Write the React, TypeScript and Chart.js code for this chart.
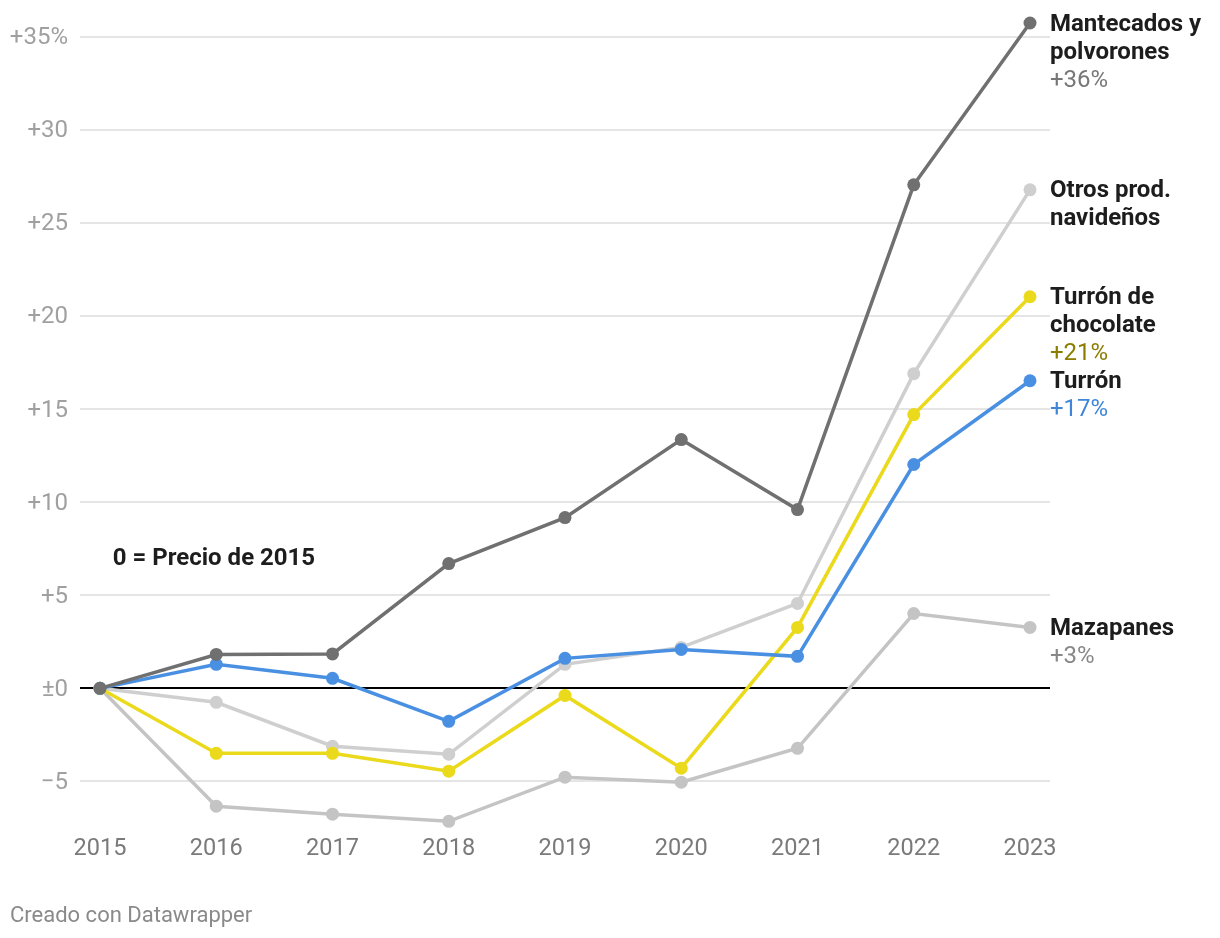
import React, { useEffect, useRef } from "react";
import { Chart, registerables } from "chart.js";

Chart.register(...registerables);

const years = [2015, 2016, 2017, 2018, 2019, 2020, 2021, 2022, 2023];
const mantecados = [0, 1.82, 1.85, 6.7, 9.17, 13.36, 9.6, 27.04, 35.73];
const turron = [0, 1.29, 0.54, -1.77, 1.61, 2.09, 1.72, 12.02, 16.52];
const turronChocolate = [0, -3.49, -3.49, -4.45, -0.38, -4.29, 3.27, 14.7, 21.03];
const otros = [0, -0.75, -3.11, -3.54, 1.29, 2.2, 4.56, 16.9, 26.77];
const mazapanes = [0, -6.33, -6.76, -7.14, -4.77, -5.04, -3.22, 4.02, 3.27];

const yTicks = [-5, 0, 5, 10, 15, 20, 25, 30, 35];

const seriesNames = [
  ["Mantecados y", "polvorones"],
  ["Turrón"],
  ["Turrón de", "chocolate"],
  ["Otros prod.", "navideños"],
  ["Mazapanes"],
];
const seriesPct = ["+36%", "+17%", "+21%", "", "+3%"];
const seriesColors = ["#707070", "#4a90e2", "#ebd91c", "#cfcfcf", "#c4c4c4"];
const pctColors = ["#777777", "#3f86d9", "#8a7d00", "#999999", "#888888"];

const FONT = "Roboto, 'Noto Sans', sans-serif";

function fmtTick(v: number) {
  if (v === 0) return "±0";
  if (v < 0) return "\u2212" + Math.abs(v);
  if (v === 35) return "+35%";
  return "+" + v;
}

export default function App() {
  const ref = useRef<HTMLCanvasElement>(null);
  useEffect(() => {
    if (!ref.current) return;
    const seriesData = [mantecados, turron, turronChocolate, otros, mazapanes];
    const labelsPlugin = {
      id: "endLabels",
      afterDatasetsDraw(chart: any) {
        const ctx = chart.ctx;
        const ys = chart.scales.y;
        const xs = chart.scales.x;
        ctx.save();
        ctx.textBaseline = "middle";
        ctx.textAlign = "left";
        const lh = 28;
        const dy = 1.5;
        seriesData.forEach((d, i) => {
          const y0 = ys.getPixelForValue(d[d.length - 1]) + dy;
          const x0 = chart.chartArea.right;
          let y = y0;
          ctx.font = `bold 24px ${FONT}`;
          ctx.fillStyle = "#1d1d1d";
          seriesNames[i].forEach((t) => {
            ctx.fillText(t, x0, y);
            y += lh;
          });
          if (seriesPct[i]) {
            ctx.font = `24px ${FONT}`;
            ctx.fillStyle = pctColors[i];
            ctx.fillText(seriesPct[i], x0, y);
          }
        });
        // annotation
        ctx.font = `bold 24px ${FONT}`;
        ctx.fillStyle = "#1d1d1d";
        ctx.fillText("0 = Precio de 2015", xs.getPixelForValue(2015.11), ys.getPixelForValue(7.03) + dy);
        // footer
        ctx.font = `22px ${FONT}`;
        ctx.fillStyle = "#8a8a8a";
        ctx.fillText("Creado con Datawrapper", 10, 916);
        ctx.restore();
      },
    };

    const chart = new Chart(ref.current, {
      type: "line",
      data: {
        datasets: seriesData.map((d, i) => ({
          label: seriesNames[i].join(" "),
          data: d.map((v, j) => ({ x: years[j], y: v })),
          borderColor: seriesColors[i],
          backgroundColor: seriesColors[i],
          pointBackgroundColor: seriesColors[i],
          pointBorderWidth: 0,
          pointRadius: 6.5,
          borderWidth: 3.5,
          tension: 0,
          clip: false,
        })),
      },
      options: {
        responsive: false,
        animation: false,
        layout: { padding: { top: 18, right: 170, bottom: 70, left: 0 } },
        plugins: { legend: { display: false }, tooltip: { enabled: false } },
        scales: {
          x: {
            type: "linear",
            min: 2015 - 0.172,
            max: 2023 + 0.172,
            afterBuildTicks: (s: any) => {
              s.ticks = years.map((v) => ({ value: v }));
            },
            afterFit: (s: any) => {
              s.height = 40;
              s.paddingLeft = 0;
              s.paddingRight = 0;
            },
            grid: { display: false, drawTicks: false },
            border: { display: false },
            ticks: {
              color: "#7a7a7a",
              font: { size: 23.5, family: FONT },
              padding: 7,
              callback: (v: any) => String(v),
              autoSkip: false,
              maxRotation: 0,
            },
          },
          y: {
            min: -7.5,
            max: 36,
            afterBuildTicks: (s: any) => {
              s.ticks = yTicks.map((v) => ({ value: v }));
            },
            afterFit: (s: any) => {
              s.width = 80;
              s.paddingTop = 0;
              s.paddingBottom = 0;
            },
            grid: {
              drawTicks: false,
              lineWidth: 2,
              color: (c: any) => (c.tick && c.tick.value === 0 ? "#000000" : "#e5e5e5"),
            },
            border: { display: false },
            ticks: {
              color: "#a0a0a0",
              font: { size: 24, family: FONT },
              padding: 12,
              labelOffset: 1.5,
              callback: (v: any) => fmtTick(Number(v)),
            },
          },
        },
      },
      plugins: [labelsPlugin],
    } as any);
    return () => chart.destroy();
  }, []);
  return (
    <div style={{ position: "absolute", left: 0, top: 0, width: 1220, height: 938, background: "#fff" }}>
      <canvas ref={ref} width={1220} height={938} style={{ width: 1220, height: 938 }} />
    </div>
  );
}
